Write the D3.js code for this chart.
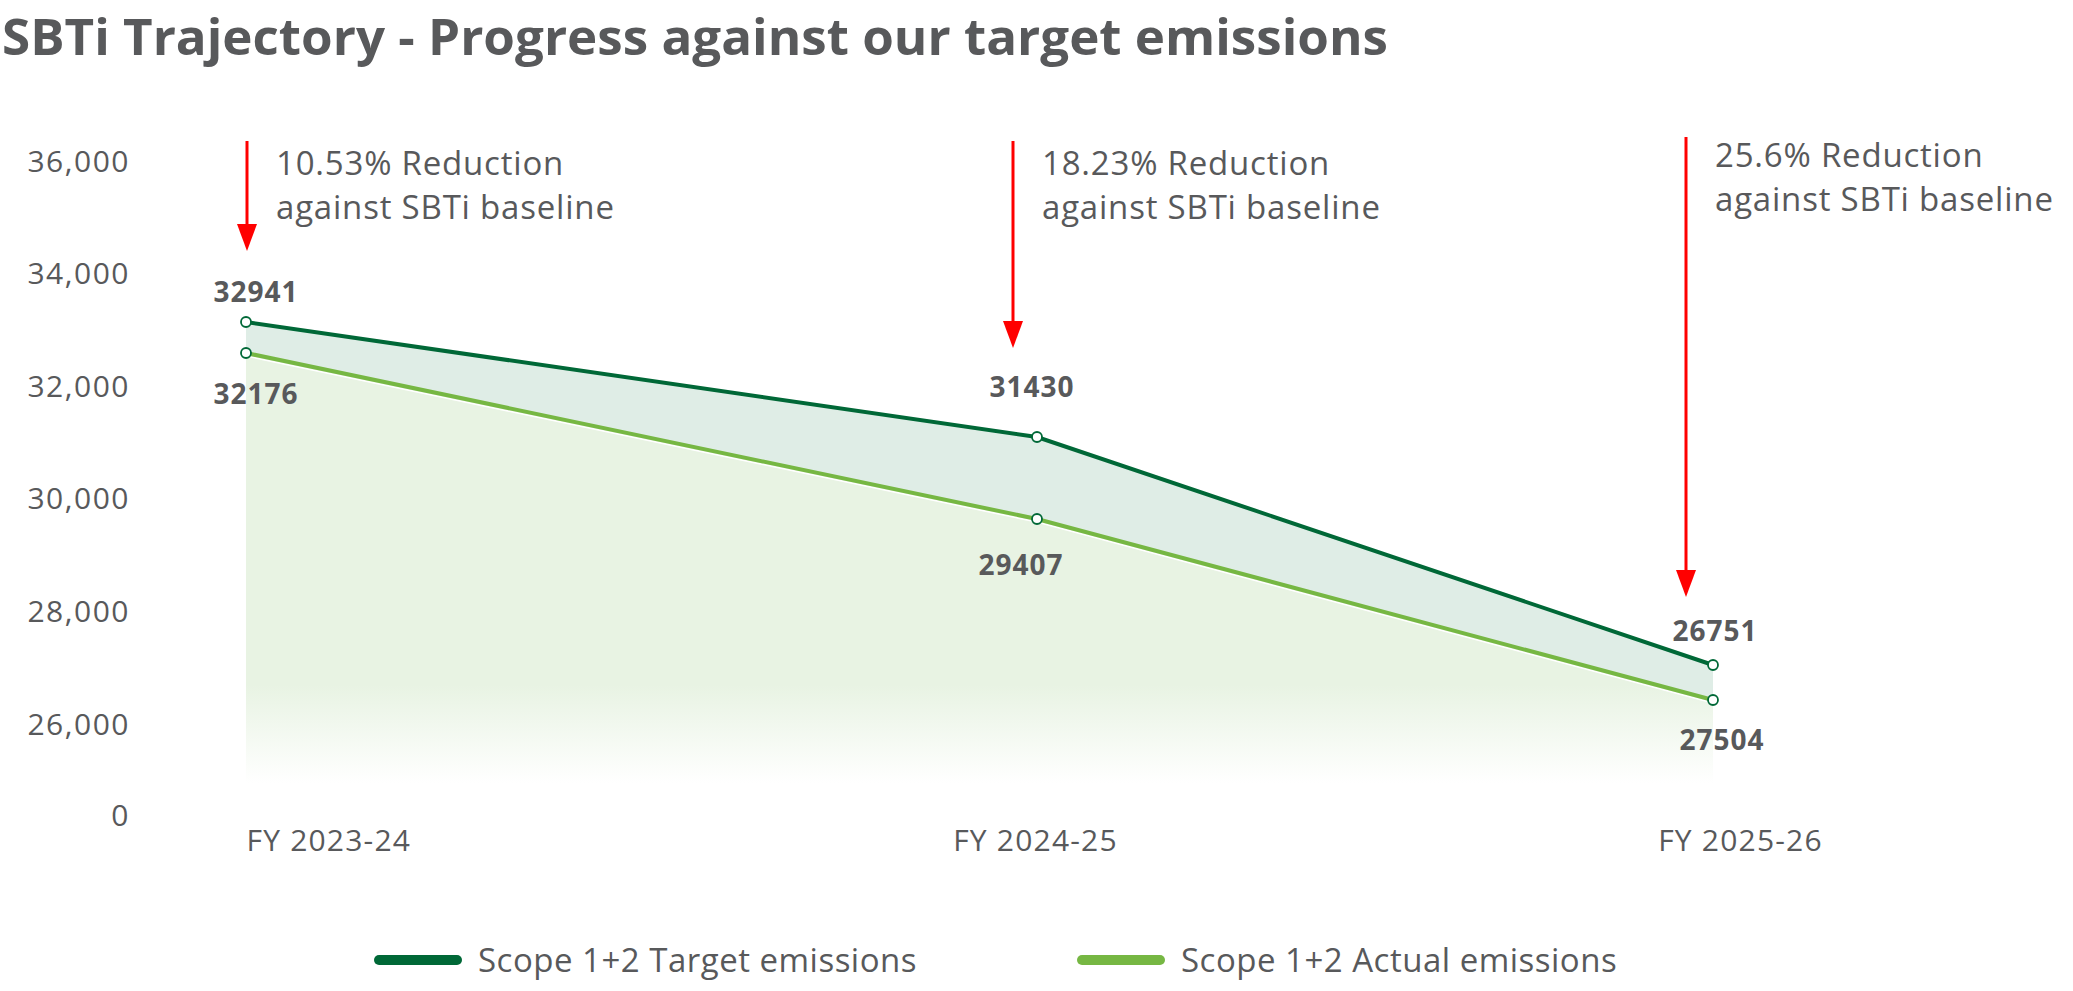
<!DOCTYPE html>
<html>
<head>
<meta charset="utf-8">
<script src="https://cdn.jsdelivr.net/npm/d3@7"></script>
<style>
  body { margin: 0; background: #fff; }
  text { font-family: "Open Sans", Lato, sans-serif; fill: #58595b; }
</style>
</head>
<body>
<div id="chart"></div>
<script>
// values
var categories = ["FY 2023-24", "FY 2024-25", "FY 2025-26"];
var targetValues = [33147, 31105, 27055];
var actualValues = [32597, 29648, 26433];
// printed data labels (as shown on the chart)
var targetLabels = ["32941", "31430", "26751"];
var actualLabels = ["32176", "29407", "27504"];
var reductionLabels = ["10.53% Reduction", "18.23% Reduction", "25.6% Reduction"];
var yTicks = [0, 26000, 28000, 30000, 32000, 34000, 36000];
var seriesNames = ["Scope 1+2 Target emissions", "Scope 1+2 Actual emissions"];

var width = 2073, height = 991;
var darkGreen = "#006837", lightGreen = "#76b743";

var svg = d3.select("#chart").append("svg")
  .attr("width", width).attr("height", height);

// broken axis: 0 sits just below 26,000
var y = d3.scaleLinear().domain([0, 26000, 36000]).range([816, 724.4, 161.4]);
var x = d3.scalePoint().domain(categories).range([330, 1740]);
// the end markers are pulled in from the label centres
var pointShift = [-84, 2, -27];
var px = function (d, i) { return x(categories[i]) + pointShift[i]; };

var defs = svg.append("defs");
var grad = defs.append("linearGradient").attr("id", "fade")
  .attr("gradientUnits", "userSpaceOnUse")
  .attr("x1", 0).attr("x2", 0).attr("y1", y(36000)).attr("y2", y(0));
grad.append("stop").attr("offset", 0).attr("stop-color", "#e8f3e3").attr("stop-opacity", 1);
grad.append("stop").attr("offset", 0.8).attr("stop-color", "#e8f3e3").attr("stop-opacity", 1);
grad.append("stop").attr("offset", 0.95).attr("stop-color", "#e8f3e3").attr("stop-opacity", 0);

// title
svg.append("text").attr("x", 2).attr("y", 55)
  .style("font-size", "50px").style("font-weight", 700)
  .attr("textLength", 1386).attr("lengthAdjust", "spacingAndGlyphs")
  .text("SBTi Trajectory - Progress against our target emissions");

// y axis (labels only)
var yAxis = svg.append("g").attr("transform", "translate(130,0)")
  .call(d3.axisLeft(y).tickValues(yTicks).tickSize(0).tickPadding(0).tickFormat(d3.format(",")));
yAxis.select(".domain").remove();
yAxis.selectAll("text").style("font-size", "30px").style("letter-spacing", "1.5px")
  .style("font-family", null).attr("fill", null);

// x axis (labels only)
var xAxis = svg.append("g").attr("transform", "translate(0,830)")
  .call(d3.axisBottom(x).tickSize(0).tickPadding(0));
xAxis.select(".domain").remove();
xAxis.selectAll("text").style("font-size", "30px").style("letter-spacing", "1.2px")
  .style("font-family", null).attr("fill", null);
xAxis.selectAll(".tick").filter(function (d, i) { return i === 0; })
  .select("text").attr("text-anchor", "start").attr("x", pointShift[0]);

var idx = d3.range(categories.length);

// area under actual
svg.append("path").datum(idx)
  .attr("d", d3.area().x(function (i) { return px(null, i); })
    .y0(y(0)).y1(function (i) { return y(actualValues[i]); }))
  .attr("fill", "url(#fade)");

// band between target and actual
svg.append("path").datum(idx)
  .attr("d", d3.area().x(function (i) { return px(null, i); })
    .y0(function (i) { return y(actualValues[i]); })
    .y1(function (i) { return y(targetValues[i]); }))
  .attr("fill", "#dfede6");

var lineOf = function (vals) {
  return d3.line().x(function (i) { return px(null, i); }).y(function (i) { return y(vals[i]); });
};

// thin white edge under the actual line
svg.append("path").datum(idx).attr("d", lineOf(actualValues))
  .attr("transform", "translate(0,3)")
  .attr("fill", "none").attr("stroke", "#fff").attr("stroke-width", 1.5);

svg.append("path").datum(idx).attr("d", lineOf(targetValues))
  .attr("fill", "none").attr("stroke", darkGreen).attr("stroke-width", 4);
svg.append("path").datum(idx).attr("d", lineOf(actualValues))
  .attr("fill", "none").attr("stroke", lightGreen).attr("stroke-width", 4);

[targetValues, actualValues].forEach(function (vals) {
  svg.selectAll(null).data(vals).enter().append("circle")
    .attr("cx", px).attr("cy", function (d) { return y(d); })
    .attr("r", 5).attr("fill", "#fff")
    .attr("stroke", darkGreen).attr("stroke-width", 1.8);
});

// data labels
var topDx = [10, -5, 2], topGap = [20, 40, 24];
var lowDx = [10, -16, 9], lowGap = [51, 56, 50];
svg.selectAll(null).data(targetValues).enter().append("text")
  .attr("x", function (d, i) { return px(d, i) + topDx[i]; })
  .attr("y", function (d, i) { return y(d) - topGap[i]; })
  .attr("text-anchor", "middle")
  .style("font-size", "28px").style("font-weight", 700).style("letter-spacing", "1px")
  .text(function (d, i) { return targetLabels[i]; });
svg.selectAll(null).data(actualValues).enter().append("text")
  .attr("x", function (d, i) { return px(d, i) + lowDx[i]; })
  .attr("y", function (d, i) { return y(d) + lowGap[i]; })
  .attr("text-anchor", "middle")
  .style("font-size", "28px").style("font-weight", 700).style("letter-spacing", "1px")
  .text(function (d, i) { return actualLabels[i]; });

// red arrows + reduction notes
var note = [{ dx: 1, gap: 71, dy: 0 }, { dx: -24, gap: 89, dy: 0 }, { dx: -27, gap: 68, dy: -8 }];
note.forEach(function (n, i) {
  var ax = px(null, i) + n.dx;
  var tip = y(targetValues[i]) - n.gap;
  var top = 141 + n.dy / 2;
  svg.append("line").attr("x1", ax).attr("x2", ax).attr("y1", top).attr("y2", tip - 20)
    .attr("stroke", "#ff0000").attr("stroke-width", 3);
  svg.append("path")
    .attr("d", "M" + (ax - 10) + "," + (tip - 27) + "L" + (ax + 10) + "," + (tip - 27) + "L" + ax + "," + tip + "Z")
    .attr("fill", "#ff0000");
  var t = svg.append("text").attr("x", ax + 29).attr("y", 175 + n.dy)
    .style("font-size", "33px").style("letter-spacing", "0.8px");
  t.append("tspan").attr("x", ax + 29).text(reductionLabels[i]);
  t.append("tspan").attr("x", ax + 29).attr("dy", 44).text("against SBTi baseline");
});

// legend
var legendLeft = 374, legendStep = 703;
[darkGreen, lightGreen].forEach(function (c, i) {
  var lx = legendLeft + i * legendStep;
  svg.append("line").attr("x1", lx + 5).attr("x2", lx + 83).attr("y1", 960).attr("y2", 960)
    .attr("stroke", c).attr("stroke-width", 10).attr("stroke-linecap", "round");
  svg.append("text").attr("x", lx + 104).attr("y", 972)
    .style("font-size", "33px").style("letter-spacing", "0.5px").text(seriesNames[i]);
});
</script>
</body>
</html>
